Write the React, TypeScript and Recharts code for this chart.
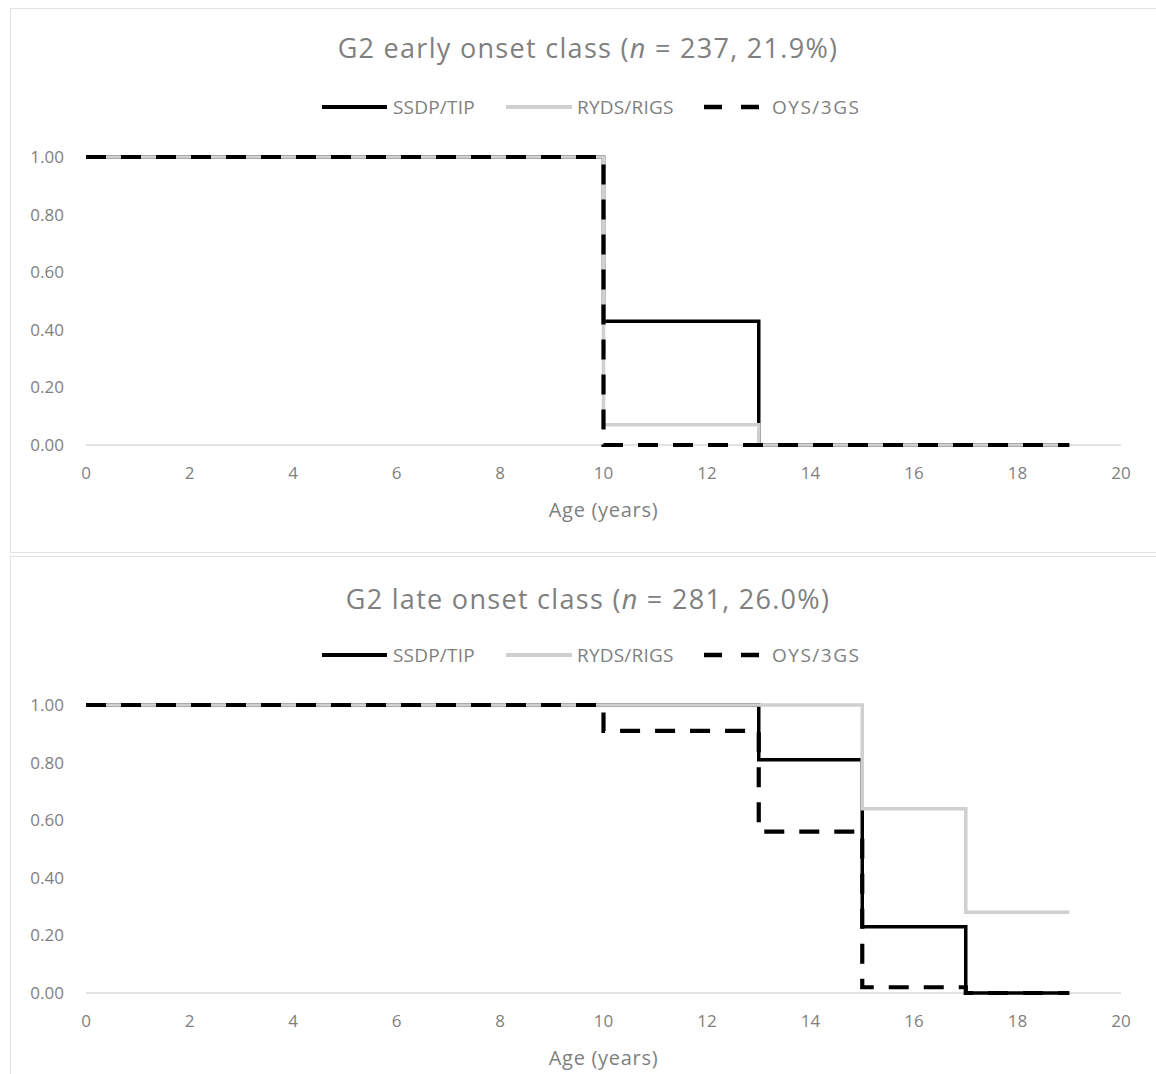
import React from 'react';
import { LineChart, Line, XAxis, YAxis } from 'recharts';

// survival proportions
const earlyAges = [0, 10, 13, 19];
const earlySsdp = [1, 0.43, 0, 0];
const earlyRyds = [1, 0.07, 0, 0];
const earlyOys = [1, 0, 0, 0];

const lateAges = [0, 10, 13, 15, 17, 19];
const lateSsdp = [1, 1, 0.81, 0.23, 0, 0];
const lateRyds = [1, 1, 1, 0.64, 0.28, 0.28];
const lateOys = [1, 0.91, 0.56, 0.02, 0, 0];

const xTicks = [0, 2, 4, 6, 8, 10, 12, 14, 16, 18, 20];
const yTicks = [0, 0.2, 0.4, 0.6, 0.8, 1];
const seriesNames = ['SSDP/TIP', 'RYDS/RIGS', 'OYS/3GS'];

const FONT = '"Open Sans", sans-serif';
const TEXT = '#7f7f7f';
const GREY_LINE = '#d0d0d0';
const DASH = '20 15';

const buildRows = (ages: number[], ssdp: number[], ryds: number[], oys: number[]) =>
  ages.map((age, i) => ({ age, ssdp: ssdp[i], ryds: ryds[i], oys: oys[i] }));

const earlyRows = buildRows(earlyAges, earlySsdp, earlyRyds, earlyOys);
const lateRows = buildRows(lateAges, lateSsdp, lateRyds, lateOys);

const legendText = (left: number, y: number, label: string, spacing = 0.2) => (
  <div style={{ position: 'absolute', left, top: y - 13, fontFamily: FONT, fontSize: 19,
    lineHeight: '26px', letterSpacing: spacing, color: TEXT, whiteSpace: 'nowrap' }}>{label}</div>
);

// line centre sits at y; text cap centre lines up with it
const LegendRow = ({ y }: { y: number }) => (
  <>
    <svg style={{ position: 'absolute', left: 0, top: y - 4 }} width={1156} height={8}>
      <line x1={322} y1={4} x2={387} y2={4} stroke="#000" strokeWidth={4} />
      <line x1={506} y1={4} x2={572} y2={4} stroke={GREY_LINE} strokeWidth={4} />
      <line x1={704} y1={4} x2={759} y2={4} stroke="#000" strokeWidth={4.5} strokeDasharray="18 19" />
    </svg>
    {legendText(393, y, seriesNames[0])}
    {legendText(577, y, seriesNames[1])}
    {legendText(772, y, seriesNames[2], 1.5)}
  </>
);

// axis drawn beneath the step lines, as in the source
const SurvivalChart = ({ rows, top }: { rows: any[]; top: number }) => (
  <div style={{ position: 'absolute', left: 0, top }}>
    <LineChart width={1156} height={381} data={rows} margin={{ top: 37, right: 35, bottom: 26, left: 26 }}>
      <XAxis dataKey="age" type="number" domain={[0, 20]} ticks={xTicks} height={30} zIndex={0}
        stroke="#d9d9d9" strokeWidth={1.5} tickLine={false} tickSize={6} tickMargin={16}
        tick={{ fill: TEXT, fontSize: 17, fontFamily: FONT }} />
      <YAxis type="number" domain={[0, 1]} ticks={yTicks} width={60} axisLine={false} tickLine={false} zIndex={0}
        tickSize={6} tickMargin={16} tickFormatter={(v: number) => v.toFixed(2)}
        tick={{ fill: TEXT, fontSize: 17, fontFamily: FONT }} />
      <Line type="stepAfter" dataKey="ssdp" stroke="#000" strokeWidth={3.5} dot={false} zIndex={600} isAnimationActive={false} />
      <Line type="stepAfter" dataKey="ryds" stroke={GREY_LINE} strokeWidth={3.5} dot={false} zIndex={601} isAnimationActive={false} />
      <Line type="stepAfter" dataKey="oys" stroke="#000" strokeWidth={4.2} strokeDasharray={DASH} dot={false} zIndex={602} isAnimationActive={false} />
    </LineChart>
  </div>
);

// baseline-positioned title
const Title = ({ baseline, label, n, pct }: { baseline: number; label: string; n: number; pct: string }) => (
  <div style={{ position: 'absolute', top: baseline - 29, left: 0, width: 1176, textAlign: 'center',
    fontFamily: FONT, fontSize: 27, lineHeight: '37px', letterSpacing: 1.3, color: TEXT, whiteSpace: 'nowrap' }}>
    {label} (<i>n</i> = {n}, {pct})
  </div>
);

const AxisTitle = ({ baseline }: { baseline: number }) => (
  <div style={{ position: 'absolute', top: baseline - 21, left: 86, width: 1035, textAlign: 'center',
    fontFamily: FONT, fontSize: 20, lineHeight: '27px', letterSpacing: 0.7, color: TEXT }}>
    Age (years)
  </div>
);

export default function App() {
  return (
    <div style={{ position: 'absolute', left: 0, top: 0, width: 1156, height: 1074, overflow: 'hidden', background: '#fff' }}>
      <div style={{ position: 'absolute', left: 10, top: 8, width: 1160, height: 543, border: '1.5px solid #e2e2e2' }} />
      <div style={{ position: 'absolute', left: 10, top: 556, width: 1160, height: 540, border: '1.5px solid #e2e2e2' }} />

      <Title baseline={58} label="G2 early onset class" n={237} pct="21.9%" />
      <LegendRow y={107} />
      <SurvivalChart rows={earlyRows} top={120} />
      <AxisTitle baseline={517} />

      <Title baseline={609} label="G2 late onset class" n={281} pct="26.0%" />
      <LegendRow y={655} />
      <SurvivalChart rows={lateRows} top={668} />
      <AxisTitle baseline={1065} />
    </div>
  );
}
